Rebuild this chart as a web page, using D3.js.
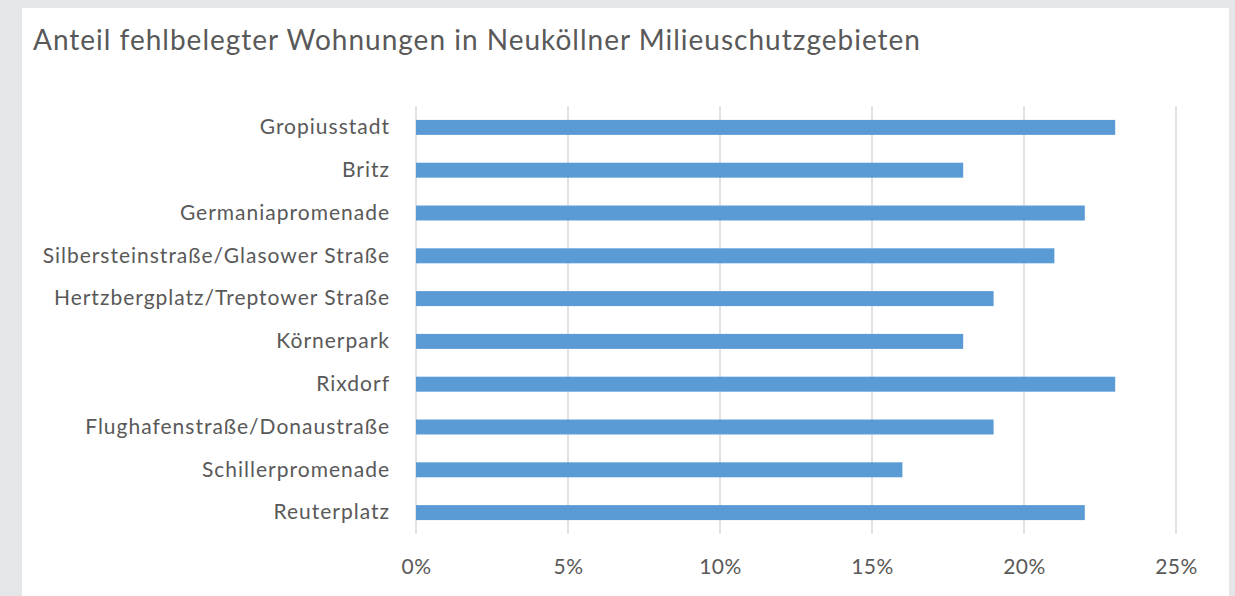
<!DOCTYPE html>
<html>
<head>
<meta charset="utf-8">
<script src="https://cdn.jsdelivr.net/npm/d3@7"></script>
<style>
  body { margin: 0; background: #e5e6e8; }
  svg { display: block; }
</style>
</head>
<body>
<div id="chart"></div>
<script>
// data
var categories = ["Gropiusstadt", "Britz", "Germaniapromenade", "Silbersteinstraße/Glasower Straße",
  "Hertzbergplatz/Treptower Straße", "Körnerpark", "Rixdorf", "Flughafenstraße/Donaustraße",
  "Schillerpromenade", "Reuterplatz"];
var values = [23, 18, 22, 21, 19, 18, 23, 19, 16, 22];
var ticks = [0, 5, 10, 15, 20, 25];
var title = "Anteil fehlbelegter Wohnungen in Neuköllner Milieuschutzgebieten";

var W = 1235, H = 596;
var font = "Lato, 'Open Sans', sans-serif";

var svg = d3.select("#chart")
    .append("svg")
    .attr("width", W)
    .attr("height", H);

svg.append("rect")
    .attr("x", 0).attr("y", 0).attr("width", W).attr("height", H)
    .style("fill", "#e5e6e8");

// white panel
svg.append("rect")
    .attr("x", 22).attr("y", 8).attr("width", 1207).attr("height", H - 8)
    .style("fill", "#ffffff");

svg.append("text")
    .attr("x", 33)
    .attr("y", 50)
    .text(title)
    .style("font-family", font)
    .style("font-size", "28px")
    .style("letter-spacing", "1px")
    .style("fill", "#595959");

var x = d3.scaleLinear().domain([0, 25]).range([416, 1176]);
var y = d3.scaleBand().domain(categories).range([106, 534]).paddingInner(0.65).paddingOuter(0.325);

// gridlines
svg.append("g")
    .selectAll("line")
    .data(ticks)
    .enter()
    .append("line")
    .attr("x1", function (d) { return x(d); })
    .attr("x2", function (d) { return x(d); })
    .attr("y1", 106)
    .attr("y2", 534)
    .style("stroke", "#d9d9d9")
    .style("stroke-width", 1.5);

// bars
svg.append("g")
    .selectAll("rect")
    .data(values)
    .enter()
    .append("rect")
    .attr("x", x(0))
    .attr("y", function (d, i) { return y(categories[i]); })
    .attr("width", function (d) { return x(d) - x(0); })
    .attr("height", y.bandwidth())
    .style("fill", "#5b9bd5");

// category labels
var yAxis = svg.append("g")
    .attr("transform", "translate(" + (x(0) - 26) + ",0)")
    .call(d3.axisLeft(y).tickSize(0).tickPadding(0));
yAxis.select(".domain").remove();
yAxis.selectAll("text")
    .style("font-family", font)
    .style("font-size", "21px")
    .style("letter-spacing", "1px")
    .style("fill", "#595959");

// value axis labels
var xAxis = svg.append("g")
    .attr("transform", "translate(0,559)")
    .call(d3.axisBottom(x).tickValues(ticks).tickSize(0).tickPadding(0)
      .tickFormat(function (d) { return d + "%"; }));
xAxis.select(".domain").remove();
xAxis.selectAll("text")
    .style("font-family", font)
    .style("font-size", "21px")
    .style("letter-spacing", "0.5px")
    .style("fill", "#595959");
</script>
</body>
</html>
